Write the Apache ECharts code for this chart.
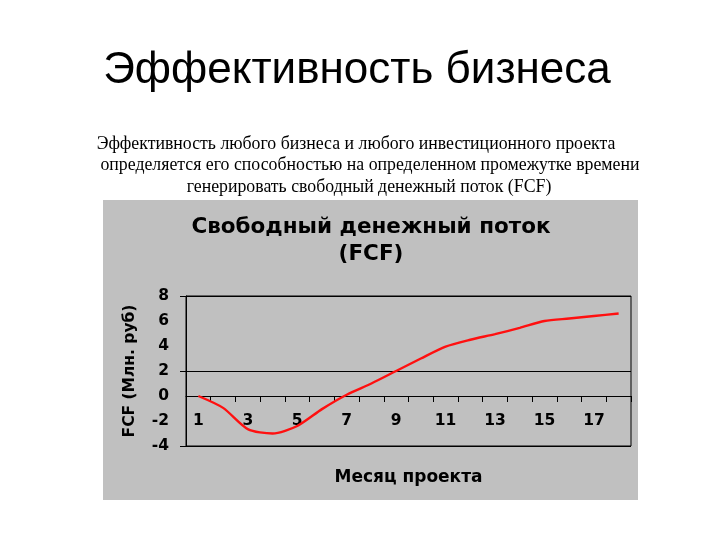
<!DOCTYPE html>
<html><head><meta charset="utf-8">
<script src="https://cdn.jsdelivr.net/npm/echarts@6/dist/echarts.min.js"></script>
<style>html,body{margin:0;padding:0;background:#fff}#c{width:720px;height:540px}</style>
</head><body><div id="c"></div>
<script>
const months = ['1','2','3','4','5','6','7','8','9','10','11','12','13','14','15','16','17','18'];
const fcf = [0, -0.95, -2.65, -3.0, -2.4, -1.05, 0.1, 1.0, 2.0, 3.0, 3.95, 4.5, 4.95, 5.45, 6.0, 6.2, 6.4, 6.6];
const yMin = -4, yMax = 8, yLabelStep = 2, yGridStep = 6;
const pageTitle = 'Эффективность бизнеса';
const pageLines = ['Эффективность любого бизнеса и любого инвестиционного проекта',
                   'определяется его способностью на определенном промежутке времени',
                   'генерировать свободный денежный поток (FCF)'];
const chartTitle = 'Свободный денежный поток\n(FCF)';
const xName = 'Месяц проекта';
const yName = 'FCF (Млн. руб)';

const chart = echarts.init(document.getElementById('c'), null, {renderer:'canvas'});
const bold = {fontFamily:'DejaVu Sans, sans-serif', fontWeight:'bold', color:'#000'};
const serif = {fontFamily:'Liberation Serif, Times New Roman, serif', fontWeight:'normal', fontSize:17.8, color:'#000'};
const lineX = [356, 370, 369];
const lineTop = [135, 156.5, 178];
chart.setOption({
  animation:false,
  backgroundColor:'#fff',
  graphic:[
    {type:'rect', shape:{x:103,y:200,width:535,height:300}, style:{fill:'#c0c0c0'}, z:-10}
  ],
  title:[
    {text:pageTitle, left:352, textAlign:'center', top:44, textStyle:{fontFamily:'Liberation Sans, Arial, sans-serif', fontWeight:'normal', fontSize:44, color:'#000'}}
  ].concat(pageLines.map((t,i)=>({text:t, left:lineX[i], textAlign:'center', top:lineTop[i], padding:0, textStyle:serif})))
   .concat([{text:chartTitle, left:366, textAlign:'center', top:209, textStyle:Object.assign({fontSize:21.5, lineHeight:27}, bold)}]),
  grid:{left:186, right:89, top:296, bottom:94, show:true, backgroundColor:'#c0c0c0', borderColor:'#000', borderWidth:1},
  xAxis:[{
    type:'category', data:months, boundaryGap:true,
    axisLine:{onZero:true, onZeroAxisIndex:0, lineStyle:{color:'#000', width:1}},
    axisTick:{show:true, alignWithLabel:false, interval:0, length:6, lineStyle:{color:'#000'}},
    axisLabel:{show:false},
    splitLine:{show:false}
  },{
    type:'category', data:months, boundaryGap:true, position:'bottom',
    name:xName, nameLocation:'middle', nameGap:23,
    nameTextStyle:Object.assign({fontSize:17}, bold),
    axisLine:{show:false, onZero:false},
    axisTick:{show:false},
    axisLabel:Object.assign({interval:1, margin:-33, fontSize:15.5}, bold),
    splitLine:{show:false}
  }],
  yAxis:[
    {type:'value', min:yMin, max:yMax, interval:yLabelStep,
     name:yName, nameLocation:'middle', nameGap:48, nameRotate:90,
     nameTextStyle:Object.assign({fontSize:15.5}, bold),
     axisLine:{show:true, lineStyle:{color:'#000'}},
     axisTick:{show:false},
     axisLabel:Object.assign({margin:17, fontSize:15.5}, bold),
     splitLine:{show:false}},
    {type:'value', min:yMin, max:yMax, interval:yGridStep, position:'left',
     axisLine:{show:false}, axisTick:{show:true, inside:false, length:6, lineStyle:{color:'#000'}},
     axisLabel:{show:false},
     splitLine:{show:true, lineStyle:{color:'#000', width:1}}}
  ],
  series:[{
    type:'line', data:fcf, xAxisIndex:0, yAxisIndex:0, smooth:0.25, symbol:'none',
    lineStyle:{color:'#ff1010', width:2.4}
  }]
});
</script></body></html>
